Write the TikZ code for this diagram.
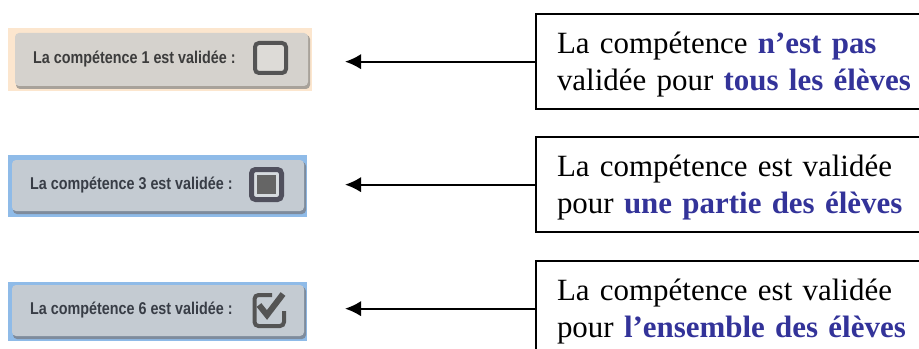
\documentclass[tikz,border=0pt]{standalone}
\usepackage{fontspec}
\setmainfont{Liberation Serif}
\newfontfamily\guifont{Liberation Sans}
\usepackage{xcolor}
\usetikzlibrary{arrows.meta,positioning,calc}
\definecolor{hlblue}{HTML}{333399}
\definecolor{guitext}{HTML}{3C3C3C}
\definecolor{guitextb}{HTML}{383D46}
\definecolor{glowwarm}{HTML}{FCE6CE}
\definecolor{bodywarm}{HTML}{D5D2CD}
\definecolor{shadewarm}{HTML}{A8A29A}
\definecolor{glowblue}{HTML}{8FBBE8}
\definecolor{bodyblue}{HTML}{C4CBD2}
\definecolor{shadeblue}{HTML}{7E8B9C}
\definecolor{tick}{HTML}{545454}
\newcommand{\hl}[1]{\textcolor{hlblue}{\textbf{#1}}}
\newcommand{\topstrut}{\rule{0pt}{20.5pt}}

\begin{document}
\begin{tikzpicture}[x=0.75pt,y=-0.75pt,
  msgbox/.style={draw=black,line width=1.5pt,anchor=north west,minimum height=71.5pt,
    text width=330pt,inner xsep=15.75pt,align=left,font=\fontsize{23.2}{27.4}\selectfont},
  arr/.style={draw=black,line width=1.4pt,-{Latex[length=12pt,width=11.5pt]}},
  lbl/.style={anchor=west,inner sep=0pt,font=\guifont\bfseries\fontsize{12.8}{14}\selectfont,
    xscale=0.84,transform shape},
  body/.style={rounded corners=3pt},
  cbox/.style={draw=tick,line width=3pt,rounded corners=3pt}]
\useasboundingbox (0,0) rectangle (919,349);
\clip (0,0) rectangle (919,349);

% buttons on the left
\fill[glowwarm] (8,28) rectangle (312,91);
\fill[shadewarm,body] (16,35) rectangle (310,89);
\fill[bodywarm,body] (15,33) rectangle (308,86);
\node[lbl,text=guitext] (btnA) at (33,59) {La compétence 1 est validée :};
\draw[cbox,fill=bodywarm!80!white] (255,43) rectangle (286,73);

\fill[glowblue] (8,155) rectangle (307,217);
\fill[shadeblue,body] (13,162) rectangle (306,214);
\fill[bodyblue,body] (12,160) rectangle (304,211);
\node[lbl,text=guitextb] (btnB) at (30,185) {La compétence 3 est validée :};
\draw[cbox,line width=3.75pt,draw=tick!95!blue,fill=bodyblue!70!white] (251.5,169.5) rectangle (281.5,199.5);
\fill[tick!90!white] (257,175) rectangle (276,194);

\fill[glowblue] (8,282) rectangle (307,341);
\fill[shadeblue,body] (13,287) rectangle (306,339);
\fill[bodyblue,body] (12,285) rectangle (304,336);
\node[lbl,text=guitextb] (btnC) at (30,310) {La compétence 6 est validée :};
\draw[cbox] (272,295) -- (254.5,295) -- (254.5,326) -- (284,326) -- (284,311);
\draw[tick,line width=4.5pt] (259,305) -- (267,315) -- (283,294);

% explanation boxes
\coordinate (tip) at (345,0);
\node[msgbox] (boxA) at (535,13) {\topstrut La compétence \hl{n’est pas}\\validée pour \hl{tous les élèves}};
\node[msgbox] (boxB) at (535,136) {\topstrut La compétence est validée\\pour \hl{une partie des élèves}};
\node[msgbox] (boxC) at (535,260) {\topstrut La compétence est validée\\pour \hl{l’ensemble des élèves}};

\draw[arr] (boxA.west) -- (boxA.west -| tip);
\draw[arr] (boxB.west) -- (boxB.west -| tip);
\draw[arr] (boxC.west) -- (boxC.west -| tip);
\end{tikzpicture}
\end{document}
